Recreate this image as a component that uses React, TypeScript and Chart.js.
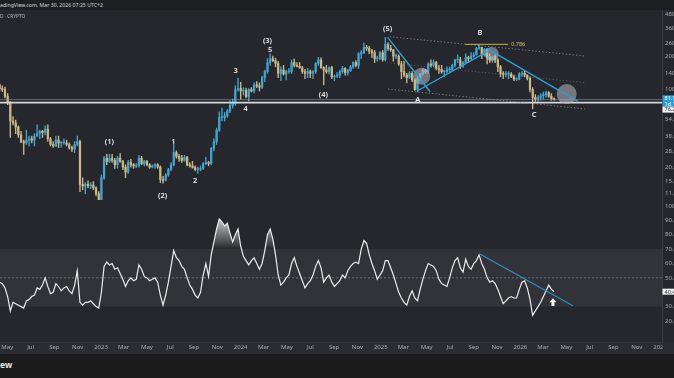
import React, { useEffect, useRef } from "react";
import { Chart, registerables } from "chart.js";

Chart.register(...registerables);

// ---------------- data ----------------
const START_DATE = "2022-04-11"; // first weekly candle
const WEEK_DAYS = 7;
const FIRST_OPEN = 110;

const WEEKLY_CLOSE = [
  102, 100, 87, 76, 52, 50, 46, 39, 34, 33,
  35, 36, 35, 38, 40, 42, 41, 44, 36, 32,
  31, 35, 33, 33, 33, 32, 30, 29, 32, 34,
  14, 13.5, 14, 13.5, 13.8, 13, 11.5, 9.9, 16, 24,
  22.5, 24, 23, 21, 24, 22.5, 20, 18, 22, 21,
  20.5, 20.5, 24, 21.5, 22.5, 21, 20, 20.5, 21, 20,
  15.5, 15.2, 17, 19, 21, 27, 25, 24, 23, 24.5,
  21, 20.5, 19.8, 19, 19.2, 19.5, 21.5, 22, 21.5, 29.5,
  34, 43, 56, 56, 58, 64, 72, 75, 100, 102,
  97, 98, 86, 100, 97, 110, 108, 105, 128, 145,
  175, 190, 182, 172, 140, 150, 138, 145, 145, 175,
  165, 162, 157, 145, 140, 145, 140, 145, 172, 185,
  158, 150, 145, 158, 130, 132, 135, 145, 155, 142,
  148, 160, 175, 165, 210, 215, 240, 235, 222, 215,
  190, 190, 215, 186, 255, 235, 228, 200, 200, 170,
  145, 135, 128, 140, 122, 100, 125, 138, 150, 145,
  170, 165, 175, 155, 152, 145, 145, 150, 152, 165,
  185, 185, 162, 175, 195, 190, 200, 205, 235, 240,
  205, 230, 195, 185, 198, 185, 160, 140, 137, 138,
  138, 130, 124, 124, 138, 140, 135, 126, 100, 85,
  82, 85, 88, 90, 94, 87, 83, 81.1,
];

const WEEKLY_HIGH = [
  112, 108, 105, 92, 78, 57, 53, 47, 42, 35,
  43, 38, 38, 40, 48, 43, 43, 47, 48, 37,
  34, 38, 38, 34, 36, 35, 33, 31, 34, 38,
  35, 16, 14.5, 15, 14.5, 14.8, 13.3, 12, 17, 25,
  26, 26, 26, 24, 25, 26.5, 23, 21, 23, 23.5,
  21.5, 21.5, 25.5, 25, 23, 23, 21.5, 21, 21.5, 21.5,
  20.5, 16.5, 17.5, 19.5, 22, 32, 28, 26, 25.5, 25.5,
  25, 22, 22.5, 20.5, 20, 20.5, 22, 24.5, 22.5, 30,
  36, 45, 63, 68, 62, 66, 79, 82, 108, 126,
  116, 104, 103, 102, 104, 115, 118, 115, 132, 150,
  190, 210, 200, 192, 180, 160, 165, 150, 155, 185,
  188, 175, 175, 162, 152, 155, 150, 148, 175, 195,
  193, 160, 165, 160, 162, 135, 142, 150, 162, 158,
  152, 165, 178, 182, 215, 225, 262, 250, 245, 230,
  225, 200, 220, 225, 295, 265, 250, 230, 210, 205,
  180, 180, 140, 145, 145, 125, 130, 140, 155, 152,
  175, 185, 185, 180, 165, 165, 150, 160, 160, 170,
  187, 205, 195, 180, 210, 200, 215, 215, 240, 253,
  240, 235, 235, 210, 200, 205, 190, 165, 145, 145,
  145, 142, 135, 128, 142, 145, 147, 136, 130, 104,
  90, 88, 92, 95, 97, 96, 92, 84,
];

const WEEKLY_LOW = [
  97, 96, 84, 73, 37, 48, 40, 37, 33, 26,
  32, 31, 33, 31, 38, 36, 37, 39, 34, 31,
  30, 30.5, 30, 30, 32, 31, 29, 27.5, 27, 31,
  12, 12.5, 11.5, 13, 12.8, 12.5, 11, 9.6, 9.8, 15.5,
  21, 22, 22, 19.5, 19.5, 22, 19, 16, 17.5, 20,
  19.5, 19.8, 20, 21, 20.5, 20.5, 19.5, 19.7, 19.5, 19.5,
  14.5, 14.3, 15, 16.5, 18.5, 20.5, 24, 22.5, 22, 22.5,
  20.5, 20, 19.5, 18.5, 17.5, 18.5, 19, 21, 20.5, 21,
  28, 32, 42, 52, 52, 56, 62, 68, 72, 96,
  82, 89, 84, 79, 95, 93, 104, 97, 102, 118,
  140, 165, 178, 160, 128, 120, 135, 122, 140, 140,
  160, 160, 155, 140, 125, 128, 128, 125, 140, 165,
  155, 110, 140, 138, 125, 120, 128, 128, 140, 135,
  135, 145, 155, 160, 155, 190, 210, 225, 210, 195,
  175, 180, 185, 180, 180, 225, 220, 180, 190, 165,
  125, 130, 115, 125, 118, 98, 95, 120, 135, 140,
  140, 160, 160, 150, 140, 140, 130, 140, 145, 145,
  160, 175, 155, 158, 170, 175, 185, 195, 205, 230,
  190, 200, 170, 175, 175, 175, 145, 130, 125, 130,
  125, 128, 120, 120, 122, 132, 130, 122, 95, 67,
  78, 78, 80, 82, 85, 85, 80, 80,
];

const WEEKLY_RSI = [
  47, 46, 43, 37, 27, 33, 32, 31, 30, 29,
  34, 35, 37, 38, 43, 42, 45, 50, 44, 39,
  40, 46, 44, 41, 43, 44, 41, 39, 45, 55,
  33, 31, 33, 33, 34, 32, 30, 29, 40, 58,
  61, 59, 60, 56, 57, 53, 49, 44, 48, 50,
  48, 49, 59, 56, 51, 50, 48, 49, 50, 47,
  38, 31, 38, 47, 58, 69, 64, 62, 58, 56,
  50, 45, 42, 38, 36, 40, 52, 60, 51, 66,
  75, 84, 91, 89, 86, 88, 81, 75, 80, 84,
  72, 65, 62, 59, 62, 64, 60, 56, 60, 69,
  80, 84, 77, 66, 52, 45, 47, 50, 52, 60,
  64, 58, 53, 48, 43, 46, 48, 52, 58, 62,
  57, 47, 50, 52, 47, 44, 46, 48, 52, 50,
  55, 58, 60, 61, 60, 70, 76, 74, 66, 60,
  55, 49, 52, 55, 62, 62, 57, 52, 46, 40,
  36, 33, 31, 37, 41, 36, 34, 42, 49, 55,
  60, 59, 58, 55, 49, 46, 45, 44, 50, 57,
  62, 64, 57, 54, 63, 58, 56, 60, 62, 66,
  60, 56, 50, 47, 48, 46, 42, 37, 32, 34,
  36, 37, 36, 36, 42, 47, 48, 43, 35, 24,
  27, 30, 33, 37, 41, 45, 42, 40.4,
];

const PRICE_TICKS = [480, 360, 260, 200, 140, 100, 54, 38, 28, 20, 15, 11.5];
const RSI_TICKS = [100, 90, 80, 70, 60, 50, 30, 20];
const TIME_TICK_DATES = [
  "2022-05-01", "2022-07-01", "2022-09-01", "2022-11-01",
  "2023-01-01", "2023-03-01", "2023-05-01", "2023-07-01", "2023-09-01", "2023-11-01",
  "2024-01-01", "2024-03-01", "2024-05-01", "2024-07-01", "2024-09-01", "2024-11-01",
  "2025-01-01", "2025-03-01", "2025-05-01", "2025-07-01", "2025-09-01", "2025-11-01",
  "2026-01-01", "2026-03-01", "2026-05-01", "2026-07-01", "2026-09-01", "2026-11-01",
  "2027-01-01",
];
const TIME_TICK_LABELS = [
  "May", "Jul", "Sep", "Nov",
  "2023", "Mar", "May", "Jul", "Sep", "Nov",
  "2024", "Mar", "May", "Jul", "Sep", "Nov",
  "2025", "Mar", "May", "Jul", "Sep", "Nov",
  "2026", "Mar", "May", "Jul", "Sep", "Nov",
  "2027",
];

const LAST_PRICE = 81.1;
const LAST_PRICE_TEXT = "81.10";
const COUNTDOWN_TEXT = "1d 16h";
const LEVEL_PRICE = 76.2;
const LEVEL_TEXT = "76.20";
const LAST_RSI = 40.4;
const LAST_RSI_TEXT = "40.40";

const HEADER_TEXT = "adingView.com, Mar 30, 2026 07:25 UTC+2";
const SYMBOL_TEXT = "D · CRYPTO";
const FOOTER_TEXT = "ew";

// Elliott wave labels (days from START_DATE, price)
const WAVE_LABELS = ["(1)", "(2)", "1", "2", "3", "4", "5", "(3)", "(4)", "(5)", "A", "B", "C"];
const WAVE_DAYS = [287, 426, 454, 511, 617, 643, 707, 700, 846, 1014, 1093, 1255, 1397];
const WAVE_PRICES = [33.9, 11.0, 33.9, 15.1, 148, 66.8, 230, 275, 89.8, 351, 80.4, 321, 58.9];

// blue trend lines in price pane
const BLUE_LINE_DAYS = [[1014, 1125], [1091, 1281], [1273, 1512]];
const BLUE_LINE_PRICES = [[295.6, 95.6], [97, 227], [235, 77.7]];
// dotted channel lines
const CHANNEL_DAYS = [[1020, 1530], [1012, 1530], [1015, 1530]];
const CHANNEL_PRICES = [[299, 200.6], [174.5, 115.2], [101.1, 66.8]];
// fib level
const FIB_DAYS = [1216, 1329];
const FIB_PRICE = 255.6;
const FIB_TEXT = "0.786";
// highlight circles
const CIRCLE_DAYS = [1103, 1286, 1482];
const CIRCLE_PRICES = [132, 209, 91];
// rsi trend line & arrow
const RSI_LINE_DAYS = [1255, 1498];
const RSI_LINE_VALUES = [66.6, 30.6];
const ARROW_DAY = 1446;
const ARROW_TOP = 35.8;
const ARROW_BOTTOM = 30.4;

// ---------------- styling ----------------
const X_MIN = 1;
const X_MAX = 1731;
const BG = "#25272c";
const AXIS_BAND = "#2a2c31";
const AXIS_LINE = "#3a3d44";
const TEXT = "#a9acb3";
const UP = "#3ea6d3";
const DOWN = "#cdb985";
const BLUE = "#2f9fd6";
const FONT = '"Noto Sans", "DejaVu Sans", sans-serif';

function dayOf(iso: string): number {
  return Math.round((Date.parse(iso) - Date.parse(START_DATE)) / 86400000);
}

function axisBox(ctx: CanvasRenderingContext2D, x: number, w: number, cy: number, bg: string, fg: string, text: string) {
  ctx.fillStyle = bg;
  ctx.fillRect(x, cy - 3, w, 6);
  ctx.fillStyle = fg;
  ctx.font = `5.5px ${FONT}`;
  ctx.textAlign = "left";
  ctx.textBaseline = "middle";
  ctx.fillText(text, x + 2, cy + 0.3);
}

const pricePlugin = {
  id: "priceOverlay",
  beforeDraw(chart: any) {
    const { ctx, width, height } = chart;
    ctx.save();
    ctx.fillStyle = BG;
    ctx.fillRect(0, 0, width, height);
    ctx.restore();
  },
  afterDatasetsDraw(chart: any) {
    const { ctx, chartArea: a } = chart;
    const x = chart.scales.x;
    const y = chart.scales.y;
    const px = (d: number) => x.getPixelForValue(d);
    const py = (p: number) => y.getPixelForValue(p);
    ctx.save();
    ctx.beginPath();
    ctx.rect(a.left, a.top, a.right - a.left, a.bottom - a.top);
    ctx.clip();

    // last-price line
    ctx.strokeStyle = "rgba(150,156,168,0.7)";
    ctx.lineWidth = 0.8;
    ctx.beginPath();
    ctx.moveTo(a.left, py(LAST_PRICE));
    ctx.lineTo(a.right, py(LAST_PRICE));
    ctx.stroke();
    // horizontal level
    ctx.strokeStyle = "#d4d6da";
    ctx.lineWidth = 1.6;
    ctx.beginPath();
    ctx.moveTo(a.left, py(LEVEL_PRICE));
    ctx.lineTo(a.right, py(LEVEL_PRICE));
    ctx.stroke();

    // dotted channel
    ctx.lineWidth = 0.9;
    ctx.setLineDash([1.2, 2.2]);
    CHANNEL_DAYS.forEach((d, i) => {
      ctx.strokeStyle = i === 1 ? "rgba(140,144,152,0.55)" : "rgba(150,154,162,0.9)";
      ctx.beginPath();
      ctx.moveTo(px(d[0]), py(CHANNEL_PRICES[i][0]));
      ctx.lineTo(px(d[1]), py(CHANNEL_PRICES[i][1]));
      ctx.stroke();
    });
    ctx.setLineDash([]);

    // fib level
    ctx.strokeStyle = "#c4b04c";
    ctx.lineWidth = 1;
    ctx.beginPath();
    ctx.moveTo(px(FIB_DAYS[0]), py(FIB_PRICE));
    ctx.lineTo(px(FIB_DAYS[1]), py(FIB_PRICE));
    ctx.stroke();
    ctx.fillStyle = "#d6c05a";
    ctx.font = `5.5px ${FONT}`;
    ctx.textAlign = "left";
    ctx.textBaseline = "middle";
    ctx.fillText(FIB_TEXT, px(FIB_DAYS[1]) + 3, py(FIB_PRICE));

    // circles
    const radii = [8.5, 7, 10];
    ctx.fillStyle = "rgba(185,186,192,0.55)";
    CIRCLE_DAYS.forEach((d, i) => {
      ctx.beginPath();
      ctx.arc(px(d), py(CIRCLE_PRICES[i]), radii[i], 0, Math.PI * 2);
      ctx.fill();
    });

    // blue trend lines
    ctx.strokeStyle = BLUE;
    ctx.lineWidth = 1.4;
    BLUE_LINE_DAYS.forEach((d, i) => {
      ctx.beginPath();
      ctx.moveTo(px(d[0]), py(BLUE_LINE_PRICES[i][0]));
      ctx.lineTo(px(d[1]), py(BLUE_LINE_PRICES[i][1]));
      ctx.stroke();
    });

    // wave labels
    ctx.fillStyle = "#eeeeee";
    ctx.font = `600 7.5px ${FONT}`;
    ctx.textAlign = "center";
    ctx.textBaseline = "middle";
    WAVE_LABELS.forEach((t, i) => {
      ctx.fillText(t, px(WAVE_DAYS[i]), py(WAVE_PRICES[i]));
    });
    ctx.restore();

    // symbol text
    ctx.save();
    ctx.fillStyle = "#b8bbc2";
    ctx.font = `4.8px ${FONT}`;
    ctx.textAlign = "left";
    ctx.textBaseline = "middle";
    ctx.fillText(SYMBOL_TEXT, 0, a.top + 6.7);
    ctx.restore();
  },
  afterDraw(chart: any) {
    const { ctx, chartArea: a, width } = chart;
    const y = chart.scales.y;
    const x0 = a.right + 0.5;
    const w = width - x0;
    const yl = y.getPixelForValue(LAST_PRICE);
    ctx.save();
    axisBox(ctx, x0, w, yl - 1.3, "#2a9fd8", "#ffffff", LAST_PRICE_TEXT);
    axisBox(ctx, x0, w, yl + 4.2, "#2a9fd8", "#ffffff", COUNTDOWN_TEXT);
    axisBox(ctx, x0, w, y.getPixelForValue(LEVEL_PRICE) + 7, "#f2f2f2", "#1e1e1e", LEVEL_TEXT);
    ctx.restore();
  },
};

const rsiPlugin = {
  id: "rsiOverlay",
  beforeDraw(chart: any) {
    const { ctx, width, height, chartArea: a } = chart;
    const y = chart.scales.y;
    ctx.save();
    ctx.fillStyle = BG;
    ctx.fillRect(0, 0, width, height);
    ctx.fillStyle = AXIS_BAND;
    ctx.fillRect(0, a.bottom, width, height - a.bottom);
    ctx.fillStyle = "rgba(255,255,255,0.06)";
    ctx.fillRect(a.left, y.getPixelForValue(70), a.right - a.left, y.getPixelForValue(30) - y.getPixelForValue(70));
    ctx.strokeStyle = "rgba(140,145,155,0.8)";
    ctx.lineWidth = 0.8;
    ctx.setLineDash([2, 2]);
    ctx.beginPath();
    ctx.moveTo(a.left, y.getPixelForValue(50));
    ctx.lineTo(a.right, y.getPixelForValue(50));
    ctx.stroke();
    ctx.restore();
  },
  beforeDatasetsDraw(chart: any) {
    const { ctx, chartArea: a } = chart;
    const y = chart.scales.y;
    const pts = chart.getDatasetMeta(0).data;
    if (!pts.length) return;
    const y70 = y.getPixelForValue(70);
    ctx.save();
    ctx.beginPath();
    ctx.rect(a.left, a.top, a.right - a.left, y70 - a.top);
    ctx.clip();
    const g = ctx.createLinearGradient(0, y.getPixelForValue(93), 0, y70);
    g.addColorStop(0, "rgba(255,255,255,0.8)");
    g.addColorStop(1, "rgba(255,255,255,0)");
    ctx.beginPath();
    ctx.moveTo(pts[0].x, y70);
    pts.forEach((p: any) => ctx.lineTo(p.x, p.y));
    ctx.lineTo(pts[pts.length - 1].x, y70);
    ctx.closePath();
    ctx.fillStyle = g;
    ctx.fill();
    ctx.restore();
  },
  afterDatasetsDraw(chart: any) {
    const { ctx } = chart;
    const x = chart.scales.x;
    const y = chart.scales.y;
    ctx.save();
    ctx.strokeStyle = "#2a8fbf";
    ctx.lineWidth = 1.3;
    ctx.beginPath();
    ctx.moveTo(x.getPixelForValue(RSI_LINE_DAYS[0]), y.getPixelForValue(RSI_LINE_VALUES[0]));
    ctx.lineTo(x.getPixelForValue(RSI_LINE_DAYS[1]), y.getPixelForValue(RSI_LINE_VALUES[1]));
    ctx.stroke();
    // up arrow
    const ax = x.getPixelForValue(ARROW_DAY);
    const top = y.getPixelForValue(ARROW_TOP);
    const bot = y.getPixelForValue(ARROW_BOTTOM);
    const head = 4;
    ctx.fillStyle = "#f4f4f4";
    ctx.beginPath();
    ctx.moveTo(ax, top);
    ctx.lineTo(ax + 3.5, top + head);
    ctx.lineTo(ax + 1.5, top + head);
    ctx.lineTo(ax + 1.5, bot);
    ctx.lineTo(ax - 1.5, bot);
    ctx.lineTo(ax - 1.5, top + head);
    ctx.lineTo(ax - 3.5, top + head);
    ctx.closePath();
    ctx.fill();
    ctx.restore();
  },
  afterDraw(chart: any) {
    const { ctx, chartArea: a, width, height } = chart;
    const y = chart.scales.y;
    ctx.save();
    ctx.fillStyle = AXIS_BAND;
    ctx.fillRect(a.right + 0.5, a.bottom + 0.5, width - a.right, height - a.bottom);
    axisBox(ctx, a.right + 0.5, width - a.right, y.getPixelForValue(LAST_RSI), "#f2f2f2", "#1e1e1e", LAST_RSI_TEXT);
    ctx.restore();
  },
};

export default function App() {
  const priceRef = useRef<HTMLCanvasElement | null>(null);
  const rsiRef = useRef<HTMLCanvasElement | null>(null);

  useEffect(() => {
    const candleDays = WEEKLY_CLOSE.map((_, i) => i * WEEK_DAYS);
    const opens = WEEKLY_CLOSE.map((_, i) => (i === 0 ? FIRST_OPEN : WEEKLY_CLOSE[i - 1]));
    const colors = WEEKLY_CLOSE.map((c, i) => (c >= opens[i] ? UP : DOWN));
    const wickData = candleDays.map((d, i) => ({ x: d, y: [WEEKLY_LOW[i], WEEKLY_HIGH[i]] }));
    const bodyData = candleDays.map((d, i) => ({
      x: d,
      y: [Math.min(opens[i], WEEKLY_CLOSE[i]), Math.max(opens[i], WEEKLY_CLOSE[i])],
    }));
    const rsiData = candleDays.map((d, i) => ({ x: d, y: WEEKLY_RSI[i] }));
    const timeTickDays = TIME_TICK_DATES.map(dayOf);

    const yTickFont = { size: 6, family: FONT };

    const priceChart = new Chart(priceRef.current as HTMLCanvasElement, {
      type: "bar",
      data: {
        datasets: [
          { data: wickData as any, backgroundColor: colors, barThickness: 0.7, grouped: false, order: 2 } as any,
          { data: bodyData as any, backgroundColor: colors, barThickness: 1.6, grouped: false, minBarLength: 0.8, order: 1 } as any,
        ],
      },
      options: {
        animation: false,
        responsive: false,
        devicePixelRatio: 1,
        layout: { padding: 0 },
        plugins: { legend: { display: false }, tooltip: { enabled: false } },
        scales: {
          x: { type: "linear", min: X_MIN, max: X_MAX, display: false, offset: false, grid: { display: false } },
          y: {
            type: "logarithmic",
            position: "right",
            min: 10.1,
            max: 521,
            grid: { display: false, drawTicks: false },
            border: { display: true, color: AXIS_LINE },
            ticks: {
              autoSkip: false,
              padding: 3,
              color: TEXT,
              font: yTickFont,
              callback: (v: any) => Number(v).toFixed(2),
            },
            afterBuildTicks: (s: any) => {
              s.ticks = PRICE_TICKS.map((v) => ({ value: v }));
            },
            afterFit: (s: any) => {
              s.width = 12;
              s.paddingTop = 0;
              s.paddingBottom = 0;
            },
          } as any,
        },
      },
      plugins: [pricePlugin],
    });

    const rsiChart = new Chart(rsiRef.current as HTMLCanvasElement, {
      type: "line",
      data: {
        datasets: [
          { data: rsiData as any, borderColor: "#ececec", borderWidth: 1.2, pointRadius: 0, tension: 0, fill: false },
        ],
      },
      options: {
        animation: false,
        responsive: false,
        devicePixelRatio: 1,
        layout: { padding: 0 },
        plugins: { legend: { display: false }, tooltip: { enabled: false } },
        scales: {
          x: {
            type: "linear",
            min: X_MIN,
            max: X_MAX,
            offset: false,
            grid: { display: false, drawTicks: false },
            border: { display: true, color: "#33363c" },
            ticks: {
              autoSkip: false,
              maxRotation: 0,
              padding: 2,
              color: TEXT,
              font: { size: 6, family: FONT },
              callback: (_v: any, i: number) => TIME_TICK_LABELS[i],
            },
            afterBuildTicks: (s: any) => {
              s.ticks = timeTickDays.map((v) => ({ value: v }));
            },
            afterFit: (s: any) => {
              s.height = 12;
              s.paddingLeft = 0;
              s.paddingRight = 0;
            },
          } as any,
          y: {
            type: "linear",
            position: "right",
            min: 5.39,
            max: 104.17,
            grid: { display: false, drawTicks: false },
            border: { display: true, color: AXIS_LINE },
            ticks: {
              autoSkip: false,
              padding: 3,
              color: TEXT,
              font: yTickFont,
              callback: (v: any) => Number(v).toFixed(2),
            },
            afterBuildTicks: (s: any) => {
              s.ticks = RSI_TICKS.map((v) => ({ value: v }));
            },
            afterFit: (s: any) => {
              s.width = 12;
              s.paddingTop = 0;
              s.paddingBottom = 0;
            },
          } as any,
        },
      },
      plugins: [rsiPlugin],
    });

    return () => {
      priceChart.destroy();
      rsiChart.destroy();
    };
  }, []);

  return (
    <div
      style={{
        position: "fixed",
        left: 0,
        top: 0,
        width: 674,
        height: 378,
        background: "#1c1c1d",
        overflow: "hidden",
        fontFamily: FONT,
      }}
    >
      <div
        style={{
          position: "absolute",
          left: 0,
          top: 0,
          width: 674,
          height: 10,
          background: "#1d1e21",
          color: "#d6d6d6",
          fontSize: "5.2px",
          lineHeight: "10px",
          whiteSpace: "nowrap",
        }}
      >
        {HEADER_TEXT}
      </div>
      <canvas
        ref={priceRef}
        width={674}
        height={190}
        style={{ position: "absolute", left: 0, top: 10, width: 674, height: 190 }}
      />
      <canvas
        ref={rsiRef}
        width={674}
        height={154}
        style={{ position: "absolute", left: 0, top: 200, width: 674, height: 154 }}
      />
      <div
        style={{
          position: "absolute",
          left: 0,
          top: 354,
          width: 674,
          height: 24,
          background: "#1c1c1d",
        }}
      >
        <span
          style={{
            position: "absolute",
            left: 0,
            top: 6,
            color: "#e6e6e6",
            fontSize: "8.5px",
            fontWeight: 700,
            lineHeight: "10px",
          }}
        >
          {FOOTER_TEXT}
        </span>
      </div>
    </div>
  );
}
